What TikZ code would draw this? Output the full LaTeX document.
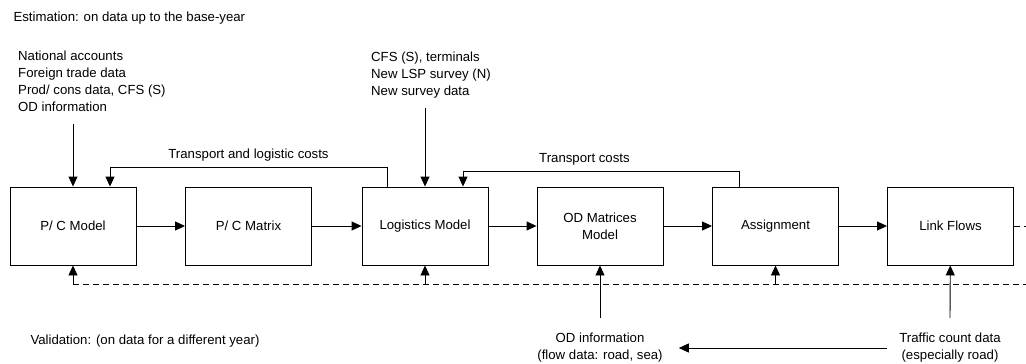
\documentclass[tikz,border=0pt]{standalone}
\usepackage{fontspec}
\setmainfont{Liberation Sans}
\usetikzlibrary{calc,arrows.meta}

\begin{document}
\begin{tikzpicture}[x=1pt,y=-1pt,>={Triangle[length=10pt,width=9pt]},
  font=\fontsize{13.2}{17}\selectfont,
  blk/.style={draw,line width=0.9pt,minimum width=126pt,minimum height=78pt,align=center,inner sep=2pt},
  lnk/.style={->,line width=0.9pt},
  fdb/.style={line width=0.9pt,dash pattern=on 6pt off 4pt}]
\useasboundingbox (0,0) rectangle (1026,364);
% main chain
\node[blk] (pcm) at (73,226) {P/ C Model};
\node[blk] (pcx) at (248.5,226) {P/ C Matrix};
\node[blk] (lgm) at (425,226) {Logistics Model};
\node[blk] (odm) at (600,226) {OD Matrices\\Model};
\node[blk] (asg) at (775.5,226) {Assignment};
\node[blk] (lkf) at (950.5,226) {Link Flows};
\draw[lnk] (pcm) -- (pcx);
\draw[lnk] (pcx) -- (lgm);
\draw[lnk] (lgm) -- (odm);
\draw[lnk] (odm) -- (asg);
\draw[lnk] (asg) -- (lkf);
\coordinate (out) at (1026,226);
\draw[fdb] (lkf) -- (out);
% estimation inputs
\node[anchor=west] (est) at (10,18) {Estimation: on data up to the base-year};
\node[anchor=north west,align=left,inner sep=0pt] (pcin) at (18,51) {National accounts\\Foreign trade data\\Prod/ cons data, CFS (S)\\OD information};
\node[anchor=north west,align=left,inner sep=0pt] (lgin) at (371,52) {CFS (S), terminals\\New LSP survey (N)\\New survey data};
\coordinate (pcs) at (73,124);
\coordinate (lgs) at (425,108);
\draw[lnk] (pcs) -- (pcm);
\draw[lnk] (lgs) -- (lgm);
% cost feedback
\draw[lnk] ([xshift=-38pt]lgm.north) -- ++(0,-19) -| ([xshift=37pt]pcm.north)
  node [pos=0.25,above=3pt] (tlc) {Transport and logistic costs};
\draw[lnk] ([xshift=-36.5pt]asg.north) -- ++(0,-15) -| ([xshift=38pt]lgm.north)
  node [pos=0.28,above=3pt] (tc) {Transport costs};
% validation
\coordinate (vl) at (73,284);
\coordinate (vr) at (1026,284);
\draw[fdb] (vl) -- (vr);
\draw[lnk] (vl) -- (pcm);
\draw[lnk] (lgm.south |- vl) -- (lgm);
\draw[lnk] (asg.south |- vl) -- (asg);
\node[anchor=west] (val) at (27,341) {Validation: (on data for a different year)};
\node[align=center,inner sep=0pt] (odi) at (600,348) {OD information\\(flow data: road, sea)};
\node[align=center,inner sep=0pt] (tcd) at (950,348) {Traffic count data\\(especially road)};
\coordinate (ods) at (600,318);
\coordinate (tcs) at (950,318);
\draw[lnk] (ods) -- (odm);
\draw[lnk] (tcs) -- (lkf);
\draw[lnk] ([xshift=-12pt]tcd.west) -- ([xshift=16pt]odi.east);
\end{tikzpicture}
\end{document}
